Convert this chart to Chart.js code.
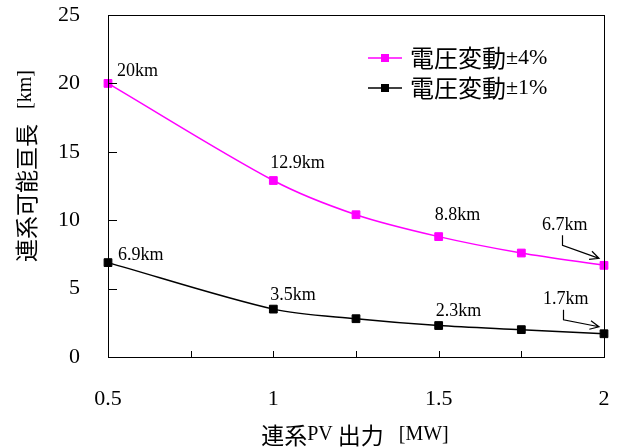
<!DOCTYPE html>
<html>
<head>
<meta charset="utf-8">
<script src="https://cdn.jsdelivr.net/npm/chart.js@4/dist/chart.umd.min.js"></script>
<style>
  html, body { margin: 0; padding: 0; background: #fff; }
  #wrap { width: 625px; height: 448px; }
</style>
</head>
<body>
<div id="wrap"><canvas id="c" width="625" height="448"></canvas></div>
<script>
// PV output (MW) and permissible feeder length (km)
const pvOutputMW = [0.5, 1, 1.25, 1.5, 1.75, 2];
const lengthPm4 = [20, 12.9, 10.4, 8.8, 7.6, 6.7];
const lengthPm1 = [6.9, 3.5, 2.8, 2.3, 2.0, 1.7];
const seriesNames = ['電圧変動±4%', '電圧変動±1%'];
const seriesColors = ['#ff00ff', '#000000'];
const labelledPoints = [0, 1, 3, 5];
const xTitle = '連系PV 出力   [MW]';
const yTitle = '連系可能亘長   [km]';

const SERIF = '"Liberation Serif", "Times New Roman", serif';
const CJK = '"Noto Sans CJK JP", sans-serif';

// label placement relative to each point: [dx, dy, withArrow]
const labelPlacement = [
  { 0: [9, -12], 1: [-3, -17], 3: [-4, -21], 5: [-62, -40, true] },
  { 0: [10, -7], 1: [-3, -14], 3: [-3, -14], 5: [-61, -34, true] }
];

const toXY = ys => pvOutputMW.map((x, i) => ({ x, y: ys[i] }));

// split a string into runs of CJK and non-CJK characters so each gets its own face
function splitRuns(text, cjkFont, latinFont) {
  const runs = [];
  for (const ch of text) {
    const isCjk = /[\u3000-\u9fff\uff00-\uffef]/.test(ch);
    const font = isCjk ? cjkFont : latinFont;
    if (runs.length && runs[runs.length - 1].font === font) runs[runs.length - 1].text += ch;
    else runs.push({ text: ch, font });
  }
  return runs;
}

function drawRuns(ctx, runs, x, y, align) {
  let total = 0;
  runs.forEach(r => { ctx.font = r.font; r.w = ctx.measureText(r.text).width; total += r.w; });
  let cx = align === 'center' ? x - total / 2 : x;
  ctx.textAlign = 'left';
  ctx.textBaseline = 'middle';
  runs.forEach(r => { ctx.font = r.font; ctx.fillText(r.text, cx, y); cx += r.w; });
}

const framePlugin = {
  id: 'frame',
  afterDraw(chart) {
    const { ctx, chartArea: a, scales } = chart;
    ctx.save();
    ctx.strokeStyle = '#000';
    ctx.lineWidth = 1;
    ctx.strokeRect(Math.round(a.left) + 0.5, Math.round(a.top) + 0.5,
      Math.round(a.right - a.left), Math.round(a.bottom - a.top));
    ctx.beginPath();
    scales.y.ticks.forEach(t => {
      const y = Math.round(scales.y.getPixelForValue(t.value)) + 0.5;
      ctx.moveTo(a.left, y); ctx.lineTo(a.left + 9, y);
    });
    for (let v = scales.x.min; v <= scales.x.max + 1e-9; v += 0.25) {
      const x = Math.round(scales.x.getPixelForValue(v)) + 0.5;
      ctx.moveTo(x, a.bottom); ctx.lineTo(x, a.bottom - 6);
    }
    ctx.stroke();
    ctx.restore();
  }
};

const titlesPlugin = {
  id: 'axisTitles',
  afterDraw(chart) {
    const { ctx, chartArea: a } = chart;
    const cjkFont = '23px ' + CJK, latinFont = '20px ' + SERIF;
    ctx.save();
    ctx.fillStyle = '#000';
    drawRuns(ctx, splitRuns(xTitle, cjkFont, latinFont), (a.left + a.right) / 2 - 1, 435, 'center');
    ctx.translate(26, 166);
    ctx.rotate(-Math.PI / 2);
    drawRuns(ctx, splitRuns(yTitle, cjkFont, latinFont), 0, 0, 'center');
    ctx.restore();
  }
};

const legendPlugin = {
  id: 'boxLegend',
  afterDraw(chart) {
    const { ctx, chartArea: a } = chart;
    ctx.save();
    chart.data.datasets.forEach((ds, i) => {
      const y = 58 + i * 30;
      const x0 = a.right - 236;
      ctx.strokeStyle = ds.borderColor;
      ctx.lineWidth = 1.5;
      ctx.beginPath(); ctx.moveTo(x0, y); ctx.lineTo(x0 + 34, y); ctx.stroke();
      ctx.fillStyle = ds.backgroundColor;
      ctx.fillRect(x0 + 13, y - 4, 8, 8);
      ctx.fillStyle = '#000';
      drawRuns(ctx, splitRuns(ds.label, '24px ' + CJK, '22px ' + SERIF), x0 + 42, y, 'left');
    });
    ctx.restore();
  }
};

function arrowTo(ctx, x1, y1, x2, y2) {
  const ang = Math.atan2(y2 - y1, x2 - x1);
  const len = 10, spread = 0.45;
  ctx.lineTo(x2, y2);
  ctx.moveTo(x2 - len * Math.cos(ang - spread), y2 - len * Math.sin(ang - spread));
  ctx.lineTo(x2, y2);
  ctx.lineTo(x2 - len * Math.cos(ang + spread), y2 - len * Math.sin(ang + spread));
}

const valueLabelPlugin = {
  id: 'valueLabels',
  afterDatasetsDraw(chart) {
    const { ctx } = chart;
    ctx.save();
    ctx.font = '18px ' + SERIF;
    ctx.fillStyle = '#000';
    ctx.strokeStyle = '#000';
    ctx.lineWidth = 1.2;
    ctx.textAlign = 'left';
    ctx.textBaseline = 'middle';
    chart.data.datasets.forEach((ds, di) => {
      const meta = chart.getDatasetMeta(di);
      labelledPoints.forEach(i => {
        const pt = meta.data[i];
        const [dx, dy, withArrow] = labelPlacement[di][i];
        const tx = pt.x + dx, ty = pt.y + dy;
        ctx.fillText(ds.data[i].y + 'km', tx, ty);
        if (withArrow) {
          const ax = Math.round(tx + 20) + 0.5;
          ctx.beginPath();
          ctx.moveTo(ax, ty + 10);
          ctx.lineTo(ax, ty + 20);
          arrowTo(ctx, ax, ty + 20, pt.x - 5, pt.y - 7);
          ctx.stroke();
        }
      });
    });
    ctx.restore();
  }
};

const makeSet = (label, ys, color) => ({
  label,
  data: toXY(ys),
  borderColor: color,
  backgroundColor: color,
  borderWidth: 1.5,
  pointStyle: 'rect',
  pointRadius: 5.5,
  pointBorderWidth: 1,
  tension: 0.3,
  clip: false
});

new Chart(document.getElementById('c'), {
  type: 'line',
  data: {
    datasets: [
      makeSet(seriesNames[0], lengthPm4, seriesColors[0]),
      makeSet(seriesNames[1], lengthPm1, seriesColors[1])
    ]
  },
  options: {
    responsive: false,
    animation: false,
    devicePixelRatio: 1,
    layout: { padding: { top: 15, right: 21, left: 0, bottom: 0 } },
    plugins: { legend: { display: false }, tooltip: { enabled: false } },
    scales: {
      x: {
        type: 'linear',
        min: 0.5, max: 2,
        ticks: {
          stepSize: 0.5, padding: 29, color: '#000',
          font: { family: SERIF, size: 22 },
          callback: v => String(v)
        },
        grid: { display: false, drawTicks: false },
        border: { display: false },
        afterFit(s) { s.height = 91; s.paddingLeft = 0; s.paddingRight = 0; }
      },
      y: {
        min: 0, max: 25,
        ticks: { stepSize: 5, padding: 28, color: '#000', font: { family: SERIF, size: 22 } },
        grid: { display: false, drawTicks: false },
        border: { display: false },
        afterFit(s) { s.width = 108; s.paddingTop = 0; s.paddingBottom = 0; }
      }
    }
  },
  plugins: [framePlugin, titlesPlugin, legendPlugin, valueLabelPlugin]
});
</script>
</body>
</html>
